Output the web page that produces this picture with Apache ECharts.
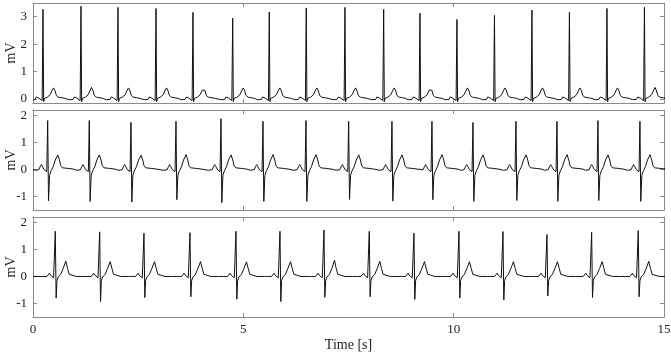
<!DOCTYPE html>
<html><head><meta charset="utf-8">
<script src="https://cdn.jsdelivr.net/npm/echarts@6/dist/echarts.min.js"></script>
<style>html,body{margin:0;padding:0;background:#fff}#c{width:671px;height:355px}</style>
</head><body><div id="c"></div>
<script>
// x-axis ticks
const xTicks = [0, 5, 10, 15];
const yTickLabels1 = [0, 1, 2, 3];
const yTickLabels23 = [-1, 0, 1, 2];

// Panel 1 (top): R-peak times [s], R amplitudes, T amplitudes [mV]
const beatTimes1 = [0.238,1.141,2.020,2.924,3.803,4.747,5.617,6.496,7.416,8.336,9.199,10.078,10.970,11.861,12.752,13.644,14.535];
const rAmp1 = [3.27,3.38,3.34,3.30,3.16,2.95,3.17,3.32,3.34,3.27,3.13,2.90,3.05,3.24,3.16,3.30,3.34];
const sAmp1 = [-0.10,-0.10,-0.10,-0.10,-0.10,-0.10,-0.10,-0.10,-0.10,-0.10,-0.10,-0.10,-0.10,-0.10,-0.10,-0.10,-0.10];
const tAmp1 = [0.40,0.42,0.40,0.40,0.38,0.40,0.40,0.40,0.40,0.40,0.38,0.40,0.40,0.40,0.40,0.40,0.42];
// beat shape: offset from R [s] and value [mV]; R/S/T replaced per beat
const shapeOff1 = [-0.28,-0.19,-0.16,-0.13,-0.10,-0.06,-0.02,0,0.015,0.035,0.10,0.17,0.22,0.25,0.28,0.32,0.37,0.45,0.52];
const shapeVal1 = [-0.03,-0.02,0.07,0.12,0.03,-0.03,-0.06,'R','S',0.02,0.06,0.15,0.32,'T',0.32,0.12,0.06,0.04,0.02];

// Panel 2 (middle)
const beatTimes2 = [0.349,1.338,2.329,3.399,4.469,5.467,6.489,7.504,8.533,9.484,10.459,11.481,12.456,13.430,14.428];
const rAmp2 = [1.81,1.81,1.74,1.78,1.88,1.78,1.81,1.78,1.78,1.78,1.74,1.78,1.78,1.81,1.78];
const sAmp2 = [-1.16,-1.18,-1.20,-1.12,-1.23,-1.18,-1.18,-1.11,-1.17,-1.12,-1.18,-1.15,-1.18,-1.15,-1.18];
const tAmp2 = [0.54,0.54,0.52,0.55,0.54,0.55,0.55,0.54,0.54,0.55,0.54,0.54,0.55,0.54,0.55];
const shapeOff2 = [-0.30,-0.21,-0.18,-0.15,-0.12,-0.09,-0.05,-0.022,0,0.02,0.045,0.08,0.13,0.18,0.24,0.28,0.31,0.35,0.48,0.62];
const shapeVal2 = [-0.03,-0.01,0.10,0.18,0.10,0.0,-0.02,-0.08,'R','S',-0.22,-0.05,0.10,0.35,'T',0.35,0.14,0.06,0.04,0.01];

// Panel 3 (bottom)
const beatTimes3 = [0.530,1.585,2.638,3.732,4.825,5.871,6.917,7.994,9.056,10.126,11.172,12.218,13.280,14.388];
const rAmp3 = [1.67,1.65,1.60,1.62,1.67,1.67,1.72,1.67,1.60,1.67,1.66,1.55,1.63,1.70];
const sAmp3 = [-0.80,-0.93,-0.78,-0.75,-0.84,-0.93,-0.77,-0.75,-0.85,-0.80,-0.87,-0.72,-0.78,-0.75];
const tAmp3 = [0.57,0.55,0.55,0.55,0.54,0.55,0.60,0.56,0.55,0.55,0.55,0.55,0.55,0.56];
const shapeOff3 = [-0.30,-0.20,-0.17,-0.14,-0.11,-0.08,-0.04,-0.015,0,0.02,0.04,0.07,0.13,0.19,0.25,0.29,0.33,0.37,0.5,0.68];
const shapeVal3 = [0.0,0.0,0.06,0.12,0.04,0.0,-0.05,-0.10,'R','S',-0.15,-0.02,0.08,0.30,'T',0.30,0.08,0.02,0.0,0.0];

function buildTrace(times, rA, sA, tA, off, val, startVal, endVal) {
  const pts = [[0, startVal]];
  times.forEach((tr, i) => {
    off.forEach((o, k) => {
      let v = val[k];
      if (v === 'R') v = rA[i];
      else if (v === 'S') v = sA[i];
      else if (v === 'T') v = tA[i];
      pts.push([+(tr + o).toFixed(4), v]);
    });
  });
  pts.push([15, endVal]);
  return pts;
}

const data1 = buildTrace(beatTimes1, rAmp1, sAmp1, tAmp1, shapeOff1, shapeVal1, -0.04, 0.02);
const data2 = buildTrace(beatTimes2, rAmp2, sAmp2, tAmp2, shapeOff2, shapeVal2, 0.0, 0.02);
const data3 = buildTrace(beatTimes3, rAmp3, sAmp3, tAmp3, shapeOff3, shapeVal3, 0.0, 0.0);

const FONT = 'Liberation Serif';
const BOX = '#8a8a8a';
const grids = [
  {left: 33, right: 7, top: 3, height: 100, outerBoundsMode: 'none', containLabel: false},
  {left: 33, right: 7, top: 110, height: 100, outerBoundsMode: 'none', containLabel: false},
  {left: 33, right: 7, top: 217, height: 100, outerBoundsMode: 'none', containLabel: false}
];
const yRanges = [[-0.15, 3.5], [-1.5, 2.2], [-1.5, 2.2]];
const yLabelSets = [yTickLabels1, yTickLabels23, yTickLabels23];

const xAxes = [], yAxes = [];
grids.forEach((g, i) => {
  const isLast = i === 2;
  xAxes.push({
    type: 'value', gridIndex: i, min: 0, max: 15, interval: 5, position: 'bottom',
    axisLine: {show: true, onZero: false, lineStyle: {color: BOX, width: 1}},
    axisTick: {show: true, inside: true, length: 4, lineStyle: {color: BOX}},
    axisLabel: {show: isLast, color: '#222', fontFamily: FONT, fontSize: 13, margin: 6,
      formatter: v => xTicks.includes(v) ? String(v) : ''},
    splitLine: {show: false},
    name: isLast ? 'Time [s]' : '', nameLocation: 'middle', nameGap: 21, nameMoveOverlap: false,
    nameTextStyle: {color: '#222', fontFamily: FONT, fontSize: 14}
  });
  xAxes.push({
    type: 'value', gridIndex: i, min: 0, max: 15, interval: 5, position: 'top',
    axisLine: {show: true, onZero: false, lineStyle: {color: BOX, width: 1}},
    axisTick: {show: true, inside: true, length: 4, lineStyle: {color: BOX}},
    axisLabel: {show: false}, splitLine: {show: false}
  });
  const labs = yLabelSets[i];
  yAxes.push({
    type: 'value', gridIndex: i, min: yRanges[i][0], max: yRanges[i][1], splitNumber: 4, position: 'left',
    axisLine: {show: true, onZero: false, lineStyle: {color: BOX, width: 1}},
    axisTick: {show: true, inside: true, length: 4, lineStyle: {color: BOX}},
    axisLabel: {color: '#222', fontFamily: FONT, fontSize: 13, margin: 6, showMinLabel: false, showMaxLabel: false,
      formatter: v => labs.includes(v) ? String(v) : ''},
    splitLine: {show: false},
    name: 'mV', nameLocation: 'middle', nameGap: 15, nameRotate: 90, nameMoveOverlap: false,
    nameTextStyle: {color: '#222', fontFamily: FONT, fontSize: 14}
  });
  yAxes.push({
    type: 'value', gridIndex: i, min: yRanges[i][0], max: yRanges[i][1], splitNumber: 4, position: 'right',
    axisLine: {show: true, onZero: false, lineStyle: {color: BOX, width: 1}},
    axisTick: {show: true, inside: true, length: 4, lineStyle: {color: BOX}},
    axisLabel: {show: false}, splitLine: {show: false}
  });
});

const mk = (d, i) => ({
  type: 'line', data: d, xAxisIndex: i * 2, yAxisIndex: i * 2, showSymbol: false, symbol: 'none',
  lineStyle: {color: '#111', width: 1}, animation: false, clip: true
});

const chart = echarts.init(document.getElementById('c'), null, {renderer: 'canvas'});
chart.setOption({
  animation: false,
  backgroundColor: '#fff',
  grid: grids,
  xAxis: xAxes,
  yAxis: yAxes,
  series: [mk(data1, 0), mk(data2, 1), mk(data3, 2)]
});
</script></body></html>
